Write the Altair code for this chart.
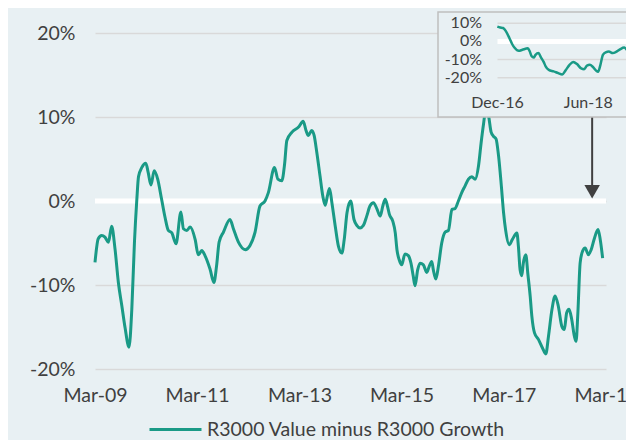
import altair as alt
import pandas as pd

# ---------------- data ----------------
dates = [
    "2009-03-01", "2009-03-24", "2009-04-18", "2009-05-11", "2009-06-05", "2009-06-28",
    "2009-07-22", "2009-08-15", "2009-09-09", "2009-10-02", "2009-10-30", "2009-11-19",
    "2009-12-08", "2009-12-25", "2010-01-06", "2010-01-30", "2010-02-27", "2010-03-16",
    "2010-04-05", "2010-04-28", "2010-05-23", "2010-06-20", "2010-07-14", "2010-08-07",
    "2010-09-01", "2010-10-01", "2010-11-05", "2010-11-23", "2010-12-17", "2011-01-10",
    "2011-02-15", "2011-03-09", "2011-04-03", "2011-04-26", "2011-06-01", "2011-06-29",
    "2011-07-18", "2011-08-05", "2011-09-05", "2011-10-22", "2011-11-15", "2011-12-21",
    "2012-02-08", "2012-03-13", "2012-04-18", "2012-05-23", "2012-06-28", "2012-07-22",
    "2012-09-04", "2012-09-28", "2012-10-26", "2012-11-15", "2012-12-01", "2013-01-07",
    "2013-02-23", "2013-03-28", "2013-04-17", "2013-05-04", "2013-05-28", "2013-06-14",
    "2013-07-03", "2013-07-26", "2013-08-15", "2013-09-01", "2013-09-17", "2013-10-02",
    "2013-10-19", "2013-11-12", "2013-12-05", "2013-12-29", "2014-01-15", "2014-02-04",
    "2014-03-02", "2014-03-26", "2014-04-15", "2014-05-08", "2014-06-01", "2014-06-25",
    "2014-07-18", "2014-08-12", "2014-09-05", "2014-09-29", "2014-10-18", "2014-11-04",
    "2014-11-20", "2014-12-04", "2014-12-28", "2015-01-15", "2015-01-27", "2015-02-12",
    "2015-03-02", "2015-03-25", "2015-04-18", "2015-05-07", "2015-05-23", "2015-06-05",
    "2015-06-24", "2015-07-11", "2015-08-04", "2015-08-28", "2015-09-14", "2015-10-03",
    "2015-10-14", "2015-11-01", "2015-11-19", "2015-12-13", "2016-01-07", "2016-01-30",
    "2016-02-24", "2016-03-17", "2016-04-10", "2016-05-04", "2016-05-28", "2016-06-21",
    "2016-07-15", "2016-08-08", "2016-09-01", "2016-09-20", "2016-10-07", "2016-10-24",
    "2016-11-12", "2016-11-30", "2016-12-17", "2017-01-04", "2017-01-22", "2017-02-11",
    "2017-02-27", "2017-03-14", "2017-04-08", "2017-04-30", "2017-06-02", "2017-06-13",
    "2017-06-25", "2017-07-07", "2017-07-18", "2017-08-05", "2017-08-19", "2017-09-05",
    "2017-09-17", "2017-10-06", "2017-11-04", "2017-12-02", "2017-12-26", "2018-01-14",
    "2018-02-08", "2018-03-02", "2018-03-25", "2018-04-19", "2018-05-07", "2018-05-24",
    "2018-06-10", "2018-06-29", "2018-07-18", "2018-07-30", "2018-08-12", "2018-08-28",
    "2018-09-14", "2018-10-03", "2018-10-26", "2018-11-15", "2018-12-09", "2019-01-03",
    "2019-01-19", "2019-02-05",
]
values = [
    -7.3, -4.5, -4.1, -4.3, -4.9, -3.0,
    -5.7, -9.7, -12.5, -15.1, -17.4, -12.9,
    -4.9, 0.2, 2.9, 4.0, 4.5, 3.4,
    1.9, 3.6, 2.6, 0.2, -1.9, -3.5,
    -3.8, -5.1, -1.3, -3.3, -3.5, -3.1,
    -4.6, -6.4, -5.9, -6.5, -8.1, -9.7,
    -7.7, -4.9, -3.7, -2.2, -3.3, -4.9,
    -5.8, -5.3, -3.7, -0.6, 0.0, 1.0,
    4.0, 2.6, 2.4, 4.4, 7.2, 8.2,
    8.8, 9.5, 8.4, 7.8, 8.4, 7.8,
    5.8, 3.0, 0.6, -0.5, 0.6, 1.5,
    -0.2, -3.0, -5.4, -6.2, -4.6, -1.4,
    0.0, -2.2, -2.9, -3.2, -2.9, -1.8,
    -0.6, -0.2, -0.9, -1.8, -0.6, 0.2,
    -0.6, -1.6, -2.4, -3.8, -5.8, -7.0,
    -7.6, -6.3, -6.5, -7.4, -8.9, -10.1,
    -8.2, -7.4, -7.6, -8.5, -7.8, -7.2,
    -8.2, -9.3, -7.8, -5.0, -3.7, -3.5,
    -1.0, -0.9, 0.0, 1.0, 1.8, 2.6,
    2.9, 2.6, 4.2, 7.0, 9.2, 11.0,
    10.1, 8.2, 7.7, 7.4, 5.4, 1.8,
    -1.4, -3.5, -5.2, -4.6, -3.8, -5.4,
    -8.2, -8.9, -7.4, -6.4, -8.6, -11.3,
    -13.7, -15.7, -16.5, -17.5, -18.2, -16.1,
    -12.9, -11.3, -12.5, -14.9, -15.3, -13.3,
    -12.9, -14.1, -16.1, -16.7, -13.3, -7.4,
    -6.0, -5.6, -6.4, -5.8, -4.4, -3.4,
    -4.6, -6.8,
]
series_name = "R3000 Value minus R3000 Growth"

main_domain = ["2009-03-01", "2019-03-01"]
x_tick_dates = ["2009-03-01", "2011-03-01", "2013-03-01", "2015-03-01", "2017-03-01", "2019-03-01"]
y_ticks = [-20, -10, 0, 10, 20]

inset_start = "2016-11-30"
inset_domain = ["2016-12-01", "2018-06-01"]
inset_grid_vals = [10, -10, -20]
inset_grid_span = ["2016-12-01", "2019-06-01"]
inset_ticks = [10, 0, -10, -20]
inset_tick_labels = ["10%", "0%", "-10%", "-20%"]
inset_x_dates = ["2016-12-01", "2018-06-01"]
inset_x_labels = ["Dec-16", "Jun-18"]

arrow_date = "2018-11-22"
arrow_top = 10.1
arrow_bottom = 1.5
arrow_head = 1.1

# ---------------- styling ----------------
BG = "#E8F0F3"
TEAL = "#1A9A86"
TEXT = "#404040"
GRID = "#D9D9D9"
FONT = "Lato"


def dt(s):
    y, m, d = (int(p) for p in s.split("-"))
    return alt.DateTime(year=y, month=m, date=d, utc=True)


df = pd.DataFrame({"date": dates, "value": values, "series": series_name})
df_inset = df[df["date"] >= inset_start]

xs = alt.Scale(type="utc", domain=[dt(s) for s in main_domain], nice=False)
ys = alt.Scale(domain=[-20, 20], nice=False, zero=False)

x_axis = alt.Axis(
    values=[dt(s) for s in x_tick_dates],
    labelExpr="utcFormat(datum.value, '%b-%y')",
    grid=False, domain=False, ticks=False, labelFlush=False,
    labelPadding=17, labelFontSize=19.5, labelColor=TEXT, labelFont=FONT,
)
y_axis = alt.Axis(
    values=y_ticks, labelExpr="datum.value + '%'",
    grid=True, gridColor=GRID, gridWidth=1.5, domain=False, ticks=False,
    labelPadding=20, labelFontSize=19.5, labelColor=TEXT, labelFont=FONT,
)

zero = alt.Chart(pd.DataFrame({"v": [0]})).mark_rule(color="white", strokeWidth=5).encode(
    y=alt.Y("v:Q", scale=ys, title=None, axis=y_axis)
)

line = alt.Chart(df).mark_line(strokeWidth=3, interpolate="monotone").encode(
    x=alt.X("date:T", scale=xs, title=None, axis=x_axis),
    y=alt.Y("value:Q", scale=ys, title=None, axis=y_axis),
    color=alt.Color(
        "series:N",
        scale=alt.Scale(domain=[series_name], range=[TEAL]),
        legend=alt.Legend(
            title=None, orient="none", legendX=53, legendY=369, padding=0,
            symbolType="stroke", symbolSize=2704, symbolStrokeWidth=3,
            labelFontSize=19.5, labelColor=TEXT, labelFont=FONT, labelLimit=500,
        ),
    ),
)

arrow_df = pd.DataFrame({"d": [arrow_date], "top": [arrow_top], "bot": [arrow_bottom], "head": [arrow_head]})
arrow_rule = alt.Chart(arrow_df).mark_rule(color=TEXT, strokeWidth=2).encode(
    x=alt.X("d:T", scale=xs, title=None, axis=x_axis),
    y=alt.Y("top:Q", scale=ys, title=None, axis=y_axis),
    y2="bot:Q",
)
arrow_tip = alt.Chart(arrow_df).mark_point(
    shape="triangle-down", filled=True, size=240, color=TEXT, opacity=1
).encode(
    x=alt.X("d:T", scale=xs, title=None, axis=x_axis),
    y=alt.Y("head:Q", scale=ys, title=None, axis=y_axis),
)

main = alt.layer(zero, line, arrow_rule, arrow_tip)

# ---------------- inset ----------------
ixs = alt.Scale(type="utc", domain=[dt(s) for s in inset_domain], range=[402.5, 493.3], nice=False)
iys = alt.Scale(domain=[-20, 10], range=[44.7, -9.7], nice=False, zero=False)

box = alt.Chart(pd.DataFrame({"a": [0]})).mark_rect(
    fill=BG, stroke="#BFBFBF", strokeWidth=1.5
).encode(x=alt.value(343), x2=alt.value(640), y=alt.value(-21), y2=alt.value(84))

ig_df = pd.DataFrame({
    "v": inset_grid_vals,
    "x0": [inset_grid_span[0]] * len(inset_grid_vals),
    "x1": [inset_grid_span[1]] * len(inset_grid_vals),
})
inset_grid = alt.Chart(ig_df).mark_rule(color=GRID, strokeWidth=1.5).encode(
    x=alt.X("x0:T", scale=ixs, axis=None), x2="x1:T",
    y=alt.Y("v:Q", scale=iys, axis=None),
)
iz_df = pd.DataFrame({"v": [0], "x0": [inset_grid_span[0]], "x1": [inset_grid_span[1]]})
inset_zero = alt.Chart(iz_df).mark_rule(color="white", strokeWidth=5).encode(
    x=alt.X("x0:T", scale=ixs, axis=None), x2="x1:T",
    y=alt.Y("v:Q", scale=iys, axis=None),
)
inset_line = alt.Chart(df_inset).mark_line(color=TEAL, strokeWidth=2.5, interpolate="monotone").encode(
    x=alt.X("date:T", scale=ixs, axis=None),
    y=alt.Y("value:Q", scale=iys, axis=None),
)
inset_ylab = alt.Chart(pd.DataFrame({"v": inset_ticks, "label": inset_tick_labels})).mark_text(
    align="right", baseline="middle", fontSize=16, color=TEXT, font=FONT
).encode(
    x=alt.value(387),
    y=alt.Y("v:Q", scale=iys, axis=None),
    text="label:N",
)
inset_xlab = alt.Chart(pd.DataFrame({"d": inset_x_dates, "label": inset_x_labels})).mark_text(
    align="center", baseline="middle", fontSize=16, color=TEXT, font=FONT
).encode(
    x=alt.X("d:T", scale=ixs, axis=None),
    y=alt.value(69.5),
    text="label:N",
)

inset = alt.layer(box, inset_grid, inset_zero, inset_line, inset_ylab, inset_xlab)

# page is 634x448 with an 8px body margin: keep the SVG within 618x432 so nothing scrolls
chart = alt.layer(main, inset).resolve_scale(
    x="independent", y="independent"
).properties(
    width=511, height=336,
    padding={"left": 87, "top": 25, "right": 20, "bottom": 71},
    autosize=alt.AutoSizeParams(type="none"),
).configure(
    background=BG, font=FONT
).configure_view(strokeWidth=0)

chart.save("out.html", embed_options={"renderer": "svg", "actions": False})
